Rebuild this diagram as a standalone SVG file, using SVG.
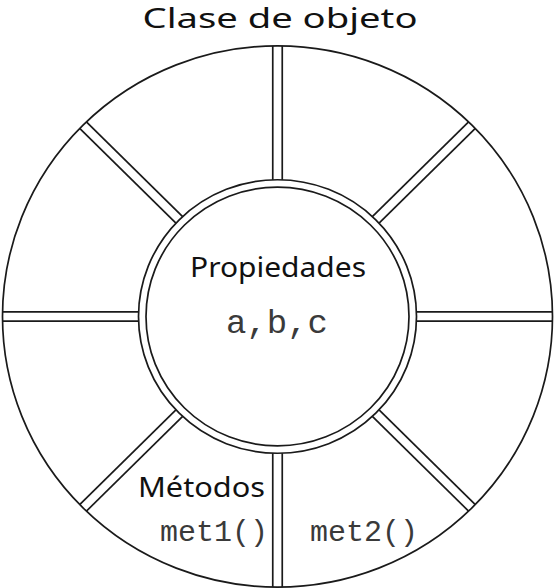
<svg xmlns="http://www.w3.org/2000/svg" width="556" height="588" viewBox="0 0 556 588">
<style>
.ln{fill:none;stroke:#1a1a1a;stroke-width:1.7}
.sans{font-family:"Noto Sans","DejaVu Sans",sans-serif;fill:#111}
.mono{font-family:"Liberation Mono","Courier New",monospace;fill:#3a3a3a}
</style>
<defs>
<g id="spoke" class="ln">
<line x1="138.9" y1="-4.75" x2="275" y2="-4.75"/>
<line x1="138.9" y1="4.75" x2="275" y2="4.75"/>
</g>
</defs>
<rect width="556" height="588" fill="#fff"/>
<g id="wheel" transform="translate(277.5,316.5) scale(1,0.984)">
<circle id="outer" class="ln" r="275"/>
<g id="spokes">
<use href="#spoke" transform="rotate(0)"/>
<use href="#spoke" transform="rotate(45)"/>
<use href="#spoke" transform="rotate(90)"/>
<use href="#spoke" transform="rotate(135)"/>
<use href="#spoke" transform="rotate(180)"/>
<use href="#spoke" transform="rotate(225)"/>
<use href="#spoke" transform="rotate(270)"/>
<use href="#spoke" transform="rotate(315)"/>
</g>
<g id="core">
<circle class="ln" r="139"/>
<circle class="ln" r="131.5"/>
</g>
</g>
<g id="title"><text class="sans" x="280" y="28" font-size="28" text-anchor="middle" textLength="275" lengthAdjust="spacingAndGlyphs">Clase de objeto</text></g>
<g id="propiedades">
<text class="sans" x="278" y="277" font-size="27" text-anchor="middle" textLength="176" lengthAdjust="spacingAndGlyphs">Propiedades</text>
<text class="mono" x="277" y="333" font-size="34" text-anchor="middle">a,b,c</text>
</g>
<g id="metodos">
<text class="sans" x="201.5" y="497" font-size="27" text-anchor="middle" textLength="127" lengthAdjust="spacingAndGlyphs">Métodos</text>
<text class="mono" x="214" y="541" font-size="30" text-anchor="middle">met1()</text>
<text class="mono" x="364" y="541" font-size="30" text-anchor="middle">met2()</text>
</g>
</svg>
